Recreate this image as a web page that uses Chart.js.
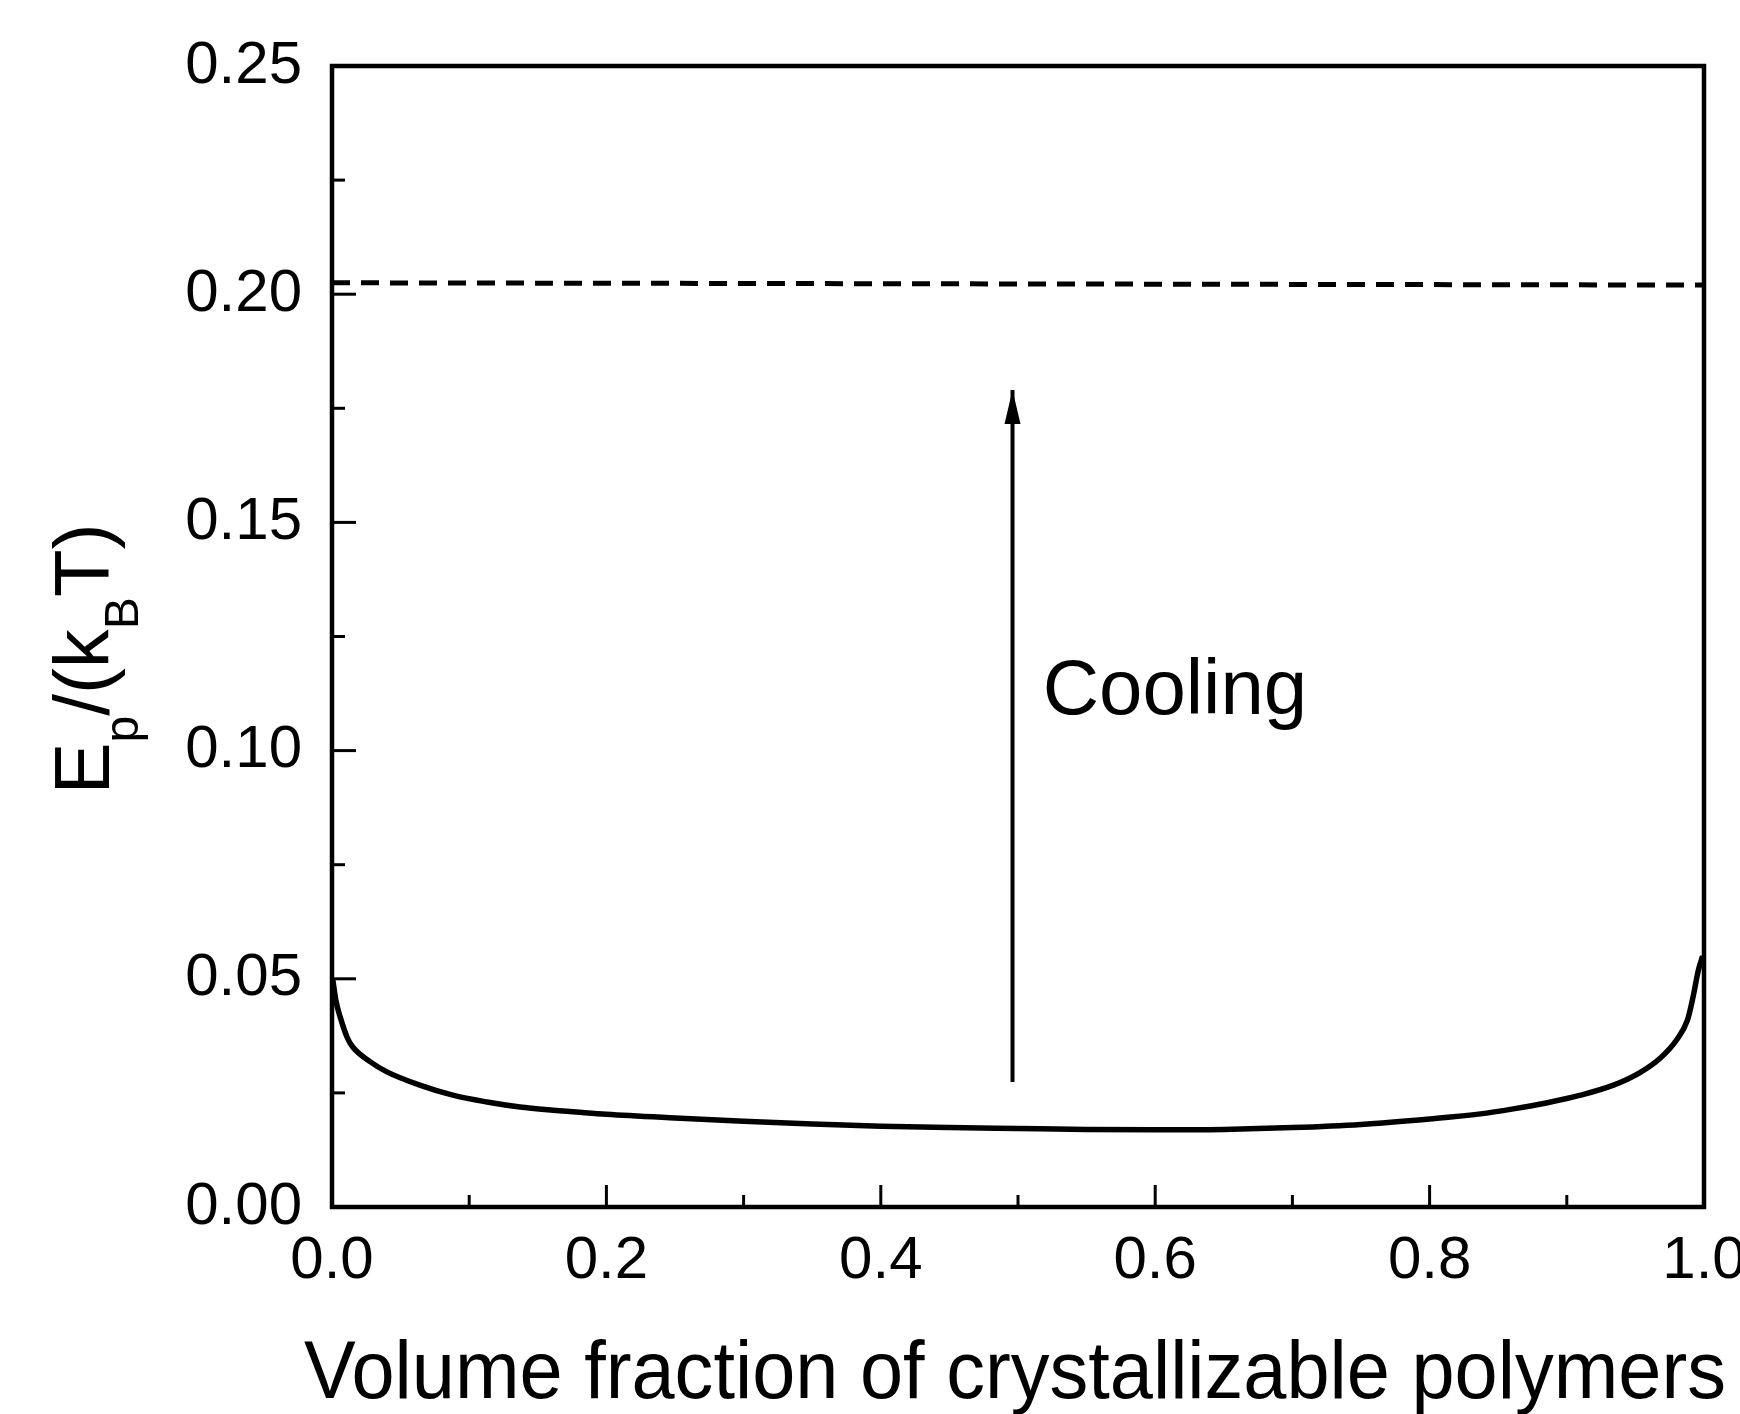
<!DOCTYPE html>
<html>
<head>
<meta charset="utf-8">
<script src="https://cdn.jsdelivr.net/npm/chart.js@4.4.1/dist/chart.umd.min.js"></script>
<style>
html, body { margin: 0; padding: 0; background: #fff; }
#wrap { width: 1740px; height: 1414px; position: relative; }
</style>
</head>
<body>
<div id="wrap"><canvas id="chart"></canvas></div>
<script>
// curve
const phi = [0.0005, 0.003, 0.006, 0.011, 0.015, 0.028, 0.04, 0.064, 0.088, 0.113, 0.137, 0.161, 0.178, 0.2, 0.25, 0.3, 0.35, 0.4, 0.45, 0.5, 0.55, 0.6, 0.65, 0.7, 0.75, 0.8, 0.837, 0.861, 0.885, 0.91, 0.934, 0.953, 0.968, 0.98, 0.988, 0.992, 0.996, 0.999];
const energy = [0.050, 0.045, 0.0416, 0.0372, 0.0351, 0.0318, 0.0296, 0.0267, 0.0245, 0.023, 0.0219, 0.0212, 0.0208, 0.0203, 0.0195, 0.0188, 0.0182, 0.0177, 0.0174, 0.0172, 0.0170, 0.0169, 0.0170, 0.0174, 0.0181, 0.0193, 0.0204, 0.0215, 0.0228, 0.0245, 0.0267, 0.0294, 0.0326, 0.0366, 0.041, 0.046, 0.052, 0.055];

// dashed limit line
const dashedPhi = [0, 1];
const dashedEnergy = [0.2025, 0.202];

// cooling arrow
const arrowPhi = [0.496, 0.496];
const arrowEnergy = [0.0274, 0.179];
const coolingText = 'Cooling';
const coolingPhi = 0.518;
const coolingEnergy = 0.108;

// ticks
const xMajorTicks = [0, 0.2, 0.4, 0.6, 0.8, 1.0];
const xMinorTicks = [0.1, 0.3, 0.5, 0.7, 0.9];
const yMajorTicks = [0, 0.05, 0.10, 0.15, 0.20, 0.25];
const yMinorTicks = [0.025, 0.075, 0.125, 0.175, 0.225];

const xTitle = 'Volume fraction of crystallizable polymers';

const FONT = '"Liberation Sans", Arial, Helvetica, sans-serif';

function pts(xs, ys) {
    return xs.map((x, i) => ({ x: x, y: ys[i] }));
}

// frame, inward ticks, arrow head, labels
const decorations = {
    id: 'decorations',
    afterDatasetsDraw(chart) {
        const ctx = chart.ctx;
        const a = chart.chartArea;
        const xs = chart.scales.x;
        const ys = chart.scales.y;
        ctx.save();
        ctx.strokeStyle = '#000';
        ctx.fillStyle = '#000';

        // frame
        ctx.lineWidth = 4.5;
        ctx.strokeRect(a.left, a.top, a.right - a.left, a.bottom - a.top);

        // ticks
        ctx.lineWidth = 3;
        function xTick(v, len) {
            const px = xs.getPixelForValue(v);
            ctx.beginPath();
            ctx.moveTo(px, a.bottom);
            ctx.lineTo(px, a.bottom - len);
            ctx.stroke();
        }
        function yTick(v, len) {
            const py = ys.getPixelForValue(v);
            ctx.beginPath();
            ctx.moveTo(a.left, py);
            ctx.lineTo(a.left + len, py);
            ctx.stroke();
        }
        xMajorTicks.forEach(v => xTick(v, 22));
        xMinorTicks.forEach(v => xTick(v, 12));
        yMajorTicks.forEach(v => yTick(v, 24));
        yMinorTicks.forEach(v => yTick(v, 13));

        // arrow head
        const tipX = xs.getPixelForValue(arrowPhi[1]);
        const tipY = ys.getPixelForValue(arrowEnergy[1]);
        ctx.beginPath();
        ctx.moveTo(tipX, tipY);
        ctx.lineTo(tipX - 8, tipY + 34);
        ctx.lineTo(tipX + 8, tipY + 34);
        ctx.closePath();
        ctx.fill();

        // Cooling label
        ctx.font = '78px ' + FONT;
        ctx.textAlign = 'left';
        ctx.textBaseline = 'alphabetic';
        ctx.fillText(coolingText, xs.getPixelForValue(coolingPhi), ys.getPixelForValue(coolingEnergy));

        // x title, slightly condensed like the original lettering
        ctx.font = '81px ' + FONT;
        ctx.textAlign = 'center';
        ctx.fillText(xTitle, (a.left + a.right) / 2 - 3, 1398, 1422);

        // y title with subscripts: E_p/(k_B T)
        ctx.textAlign = 'left';
        const parts = [
            { t: 'E', sub: false },
            { t: 'p', sub: true },
            { t: '/(k', sub: false },
            { t: 'B', sub: true },
            { t: 'T)', sub: false }
        ];
        const bigFont = '78px ' + FONT;
        const smallFont = '48px ' + FONT;
        let total = 0;
        parts.forEach(p => {
            ctx.font = p.sub ? smallFont : bigFont;
            p.w = ctx.measureText(p.t).width;
            total += p.w;
        });
        ctx.translate(109, 659);
        ctx.rotate(-Math.PI / 2);
        let cx = -total / 2;
        parts.forEach(p => {
            ctx.font = p.sub ? smallFont : bigFont;
            ctx.fillText(p.t, cx, p.sub ? 29 : 0);
            cx += p.w;
        });
        ctx.restore();
    }
};

const ctx = document.getElementById('chart').getContext('2d');
new Chart(ctx, {
    type: 'line',
    data: {
        datasets: [
            {
                label: 'Ep',
                data: pts(phi, energy),
                borderColor: '#000',
                borderWidth: 5.5,
                pointRadius: 0,
                cubicInterpolationMode: 'monotone',
                fill: false
            },
            {
                label: 'limit',
                data: pts(dashedPhi, dashedEnergy),
                borderColor: '#000',
                borderWidth: 5,
                borderDash: [18, 11],
                pointRadius: 0,
                fill: false
            },
            {
                label: 'cooling',
                data: pts(arrowPhi, arrowEnergy),
                borderColor: '#000',
                borderWidth: 4,
                pointRadius: 0,
                fill: false
            }
        ]
    },
    options: {
        responsive: true,
        maintainAspectRatio: false,
        animation: false,
        layout: {
            autoPadding: false,
            padding: { left: 0, top: 66, right: 36, bottom: 0 }
        },
        plugins: {
            legend: { display: false },
            tooltip: { enabled: false }
        },
        scales: {
            x: {
                type: 'linear',
                min: 0,
                max: 1,
                grid: { display: false, drawTicks: false },
                border: { display: false },
                ticks: {
                    stepSize: 0.2,
                    padding: 18,
                    color: '#000',
                    font: { family: FONT, size: 60 },
                    maxRotation: 0,
                    callback: v => v.toFixed(1)
                },
                title: { display: false },
                afterFit: s => {
                    s.height = 207;
                    s.paddingLeft = 0;
                    s.paddingRight = 0;
                }
            },
            y: {
                type: 'linear',
                min: 0,
                max: 0.25,
                grid: { display: false, drawTicks: false },
                border: { display: false },
                ticks: {
                    stepSize: 0.05,
                    padding: 30,
                    color: '#000',
                    font: { family: FONT, size: 60 },
                    callback: v => v.toFixed(2)
                },
                afterFit: s => { s.width = 332; }
            }
        }
    },
    plugins: [decorations]
});
</script>
</body>
</html>
